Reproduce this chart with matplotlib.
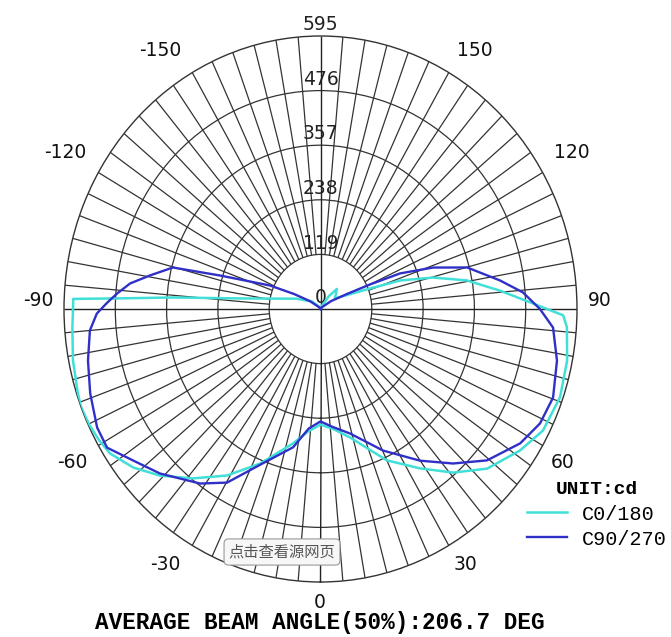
import numpy as np
import matplotlib
matplotlib.use('Agg')
import matplotlib.pyplot as plt

# luminous intensity curves (gamma angle in degrees, intensity in cd)
gamma_c0 = [-180, -150, -130, -112, -101, -97, -94.2, -92.8, -92.2, -90,
            -86, -79, -72, -69, -65, -61, -57.2, -51.5, -45.7, -38.7,
            -30.9, -22.6, -12.3, -6, 0, 6, 13.7, 25, 33.6, 40.8,
            48, 56.3, 62.8, 70.9, 78.9, 86, 88.6, 91.4, 95.5, 100.4,
            104.7, 108.6, 111.3, 118, 125, 132, 139, 145, 155, 180]
cd_c0 = [0, 5, 25, 60, 119, 189, 343, 472, 574, 574,
         577, 585, 592, 595, 593, 588, 581, 555, 520, 473,
         423, 365, 300, 268, 252, 262, 288, 364, 417, 471,
         520, 556, 580, 588, 583, 573, 563, 493, 418, 345,
         270, 195, 123, 60, 40, 48, 58, 35, 8, 0]

gamma_c90 = [-180, -140, -125, -118, -113.6, -107.4, -104.8, -100.5, -97.2, -94.1,
             -91.6, -88.9, -85, -78.2, -71, -63.5, -58.6, -52.8, -46.1, -36.3,
             -29.8, -21.7, -11.9, -6, 0, 6, 14.2, 25.2, 34.9, 42.4,
             49.5, 57.7, 63.9, 70.3, 78.4, 85.7, 90, 94.4, 98.5, 104.9,
             109.1, 112.8, 115, 118, 125, 140, 180]
cd_c90 = [0, 5, 30, 70, 128, 244, 354, 402, 445, 473,
          495, 519, 537, 551, 565, 579, 580, 546, 517, 472,
          436, 362, 308, 262, 245, 258, 280, 341, 403, 456,
          508, 548, 567, 573, 560, 541, 509, 471, 421, 352,
          276, 200, 126, 70, 30, 5, 0]

rings = [119, 238, 357, 476, 595]
angle_labels = ['0', '30', '60', '90', '120', '150',
                '-150', '-120', '-90', '-60', '-30']
# where the angle labels sit (pixels from top-left)
label_px = [(320, 603), (465, 565), (563, 462), (600, 301), (572, 153), (475, 50),
            (160, 50), (65, 153), (38, 301), (72, 462), (165, 565)]

W, H = 671, 637
fig = plt.figure(figsize=(W/100, H/100), dpi=100)
ax = fig.add_axes([64/W, 1-582/H, 513/W, 546/H], projection='polar')
ax.set_theta_zero_location('S')
ax.set_theta_direction(1)
ax.set_aspect('auto')
ax.set_ylim(0, rings[-1])

# grid: rings + spokes every 5 deg
ax.grid(False)
ax.set_rgrids(rings[:-1], labels=[''] * 4)
ax.yaxis.grid(True, color='#333333', lw=0.9)
spokes = np.arange(0, 360, 5)
minor = spokes[spokes % 90 != 0]
major = spokes[spokes % 90 == 0]
ax.vlines(np.radians(minor), rings[0], rings[-1], colors='#333333', lw=0.9)
ax.vlines(np.radians(major), 0, rings[-1], colors='#222222', lw=1.0)
ax.spines['polar'].set_color('#333333')
ax.spines['polar'].set_linewidth(1.0)
ax.set_xticks([])

for lab, (px, py) in zip(angle_labels, label_px):
    fig.text(px/W, 1-py/H, lab, ha='center', va='center',
             fontsize=13.5, color='#111111')

for r in [0] + rings:
    ax.text(np.pi, r + 4, str(r), ha='center', va='bottom',
            fontsize=13.5, color='#222222')

l1, = ax.plot(np.radians(gamma_c0), cd_c0, color='#40E0D8', lw=1.8,
              label='C0/180', zorder=5)
l2, = ax.plot(np.radians(gamma_c90), cd_c90, color='#3030C8', lw=1.7,
              label='C90/270', zorder=6)

ax.legend(handles=[l1, l2], loc='center',
          bbox_to_anchor=(597/W, 1-515/H), bbox_transform=fig.transFigure,
          frameon=False, title='UNIT:cd',
          prop={'family': 'Liberation Mono', 'size': 14.5},
          title_fontproperties={'family': 'Liberation Mono',
                                'weight': 'bold', 'size': 14},
          handlelength=2.0, handletextpad=0.75, labelspacing=0.3)

fig.text(320/W, 1-623/H, 'AVERAGE BEAM ANGLE(50%):206.7 DEG',
         ha='center', va='center', family='Liberation Mono',
         weight='bold', size=16.3)

fig.text(282/W, 1-552/H, '点击查看源网页', ha='center', va='center',
         family=['Noto Sans CJK SC', 'DejaVu Sans'], size=11, color='#555555',
         bbox=dict(boxstyle='round,pad=0.3', fc='#f7f7f7', ec='#999999', lw=0.8),
         zorder=10)

fig.savefig('out.png', dpi=100)
